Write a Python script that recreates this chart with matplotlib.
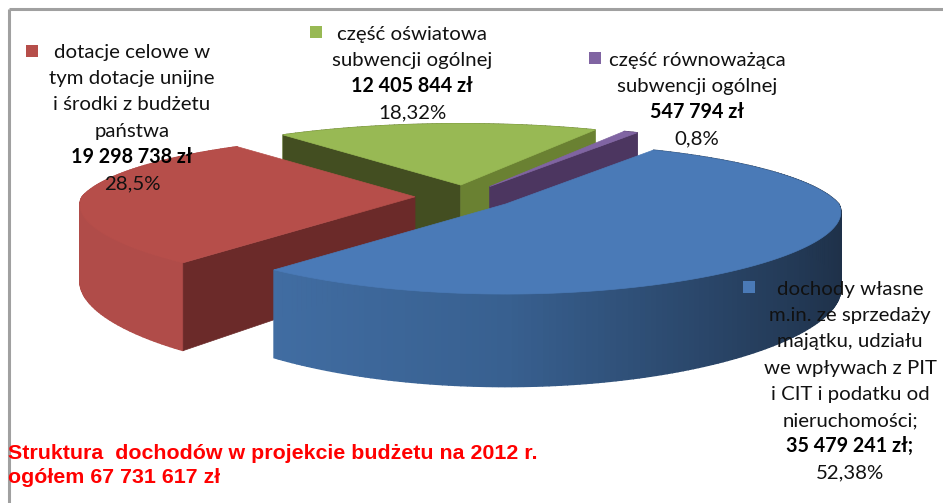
import numpy as np
import matplotlib
matplotlib.use("Agg")
import matplotlib.pyplot as plt
from matplotlib.patches import Polygon, Rectangle
from matplotlib.colors import to_rgb

# ---- data (clockwise, starting with the biggest slice)
slice_names = ["dochody własne", "dotacje celowe", "część oświatowa", "część równoważąca"]
slice_values = [35479241, 19298738, 12405844, 547794]
amount_labels = ["35 479 241 zł;", "19 298 738 zł", "12 405 844 zł", "547 794 zł"]
percent_labels = ["52,38%", "28,5%", "18,32%", "0,8%"]
name_lines = [
    ["dochody własne", "m.in. ze sprzedaży", "majątku, udziału", "we wpływach z PIT",
     "i CIT i podatku od", "nieruchomości;"],
    ["dotacje celowe w", "tym dotacje unijne", "i środki z budżetu", "państwa"],
    ["część oświatowa", "subwencji ogólnej"],
    ["część równoważąca", "subwencji ogólnej"],
]
title_lines = ["Struktura  dochodów w projekcie budżetu na 2012 r.", "ogółem 67 731 617 zł"]

# ---- styles
top_colors = ["#4A7AB7", "#B64E4A", "#98B954", "#8064A2"]
rim_colors = [None, "#B04C49", "#6A8132", "#4C3660"]
# wall colours: face at the start / face at the end of a slice, going clockwise
start_wall = ["#2F5078", "#6B2A29", "#434E21", "#4C3660"]
end_wall = ["#2F5078", "#6B2A29", "#6A8132", "#4C3660"]
key_colors = top_colors
blue_left, blue_mid, blue_right = to_rgb("#4674AC"), to_rgb("#386090"), to_rgb("#1E3048")

# label blocks: centre x, baseline of first line, key square position
label_cx = [850, 132, 412, 697]
label_y0 = [295, 58, 40, 66]
key_xy = [(743, 281), (26, 45), (310, 26), (589, 52)]
line_step = 26.2

# ---- 3D look of the pie, in pixels
start_angle = 59.0
cx, cy = 465, 197     # pie centre before exploding
ex, ey = 50, 12       # explosion
A, B = 333, 73        # radii
K = 0.19              # perspective
K_FRONT_X = 0.11      # front half spreads less in x than in y
D = 75                # thickness


def project(theta):
    u, v = np.cos(theta), np.sin(theta)
    s = 1 / (1 + K * v)
    sx = np.where(v > 0, s, 1 / (1 + K_FRONT_X * v))
    return u * A * sx, -v * B * s, D * s


def blue_rim(u):
    t = (u + 1) / 2
    if t < 0.5:
        a, b, f = blue_left, blue_mid, t * 2
    else:
        a, b, f = blue_mid, blue_right, (t - 0.5) * 2
    return tuple(a[i] + (b[i] - a[i]) * f for i in range(3))


fig = plt.figure(figsize=(9.43, 5.03), dpi=100)
ax = fig.add_axes([0, 0, 1, 1])
ax.set_xlim(0, 943)
ax.set_ylim(503, 0)
ax.axis("off")

# frame
ax.plot([8.5, 8.5], [503, 8.5], color="#A0A0A0", lw=2.2, solid_capstyle="butt")
ax.plot([8.5, 943], [8.5, 8.5], color="#A0A0A0", lw=2.2, solid_capstyle="butt")

# slice angles come straight from the values
fractions = np.array(slice_values) / sum(slice_values)
ends = start_angle - 360 * np.cumsum(fractions)
starts = np.concatenate([[start_angle], ends[:-1]])

# painter's order: green, purple, red, blue
i_order = {2: 1, 3: 2, 1: 3, 0: 4}


def draw_slice(i):
    a0, a1 = np.radians(starts[i]), np.radians(ends[i])
    mid = (a0 + a1) / 2
    ox = cx + ex * np.cos(mid)
    oy = cy - ey * np.sin(mid)
    thetas = np.linspace(a0, a1, max(int(abs(a1 - a0) * 60), 4))

    # outer rim, back to front
    order = np.argsort(-np.sin(thetas[:-1]))
    for j in order:
        x0, y0, d0 = project(thetas[j])
        x1, y1, d1 = project(thetas[j + 1])
        col = rim_colors[i] or blue_rim(np.cos((thetas[j] + thetas[j + 1]) / 2))
        ax.add_patch(Polygon([(ox + x0, oy + y0), (ox + x1, oy + y1),
                              (ox + x1, oy + y1 + d1), (ox + x0, oy + y0 + d0)],
                             closed=True, fc=col, ec=col, lw=1.0, zorder=i_order[i]))

    # radial faces, only those turned to the viewer
    for th, normal, col in ((a0, a0 + np.pi / 2, start_wall[i]), (a1, a1 - np.pi / 2, end_wall[i])):
        if np.sin(normal) >= 0:
            continue
        x, y, d = project(th)
        ax.add_patch(Polygon([(ox, oy), (ox + x, oy + y), (ox + x, oy + y + d), (ox, oy + D)],
                             closed=True, fc=col, ec=col, lw=0.5, zorder=i_order[i] + 0.2))

    # top surface
    xs, ys, _ = project(thetas)
    pts = [(ox, oy)] + list(zip(ox + xs, oy + ys))
    ax.add_patch(Polygon(pts, closed=True, fc=top_colors[i], ec=top_colors[i], lw=0.5,
                         zorder=i_order[i] + 0.5))


for i in [2, 3, 1, 0]:
    draw_slice(i)

# labels
FONT = "Lato"
for i in range(len(slice_values)):
    y = label_y0[i]
    for line in name_lines[i]:
        ax.text(label_cx[i], y, line, family=FONT, fontsize=14.7, color="#111111",
                ha="center", va="baseline", zorder=10)
        y += line_step
    ax.text(label_cx[i], y, amount_labels[i], family=FONT, fontsize=14.2, fontweight="bold",
            color="black", ha="center", va="baseline", zorder=10)
    y += line_step
    ax.text(label_cx[i], y, percent_labels[i], family=FONT, fontsize=14.7, color="#111111",
            ha="center", va="baseline", zorder=10)
    ax.add_patch(Rectangle(key_xy[i], 12, 12, fc=key_colors[i], ec="none", zorder=9))

# title
for line, y in zip(title_lines, [459, 483]):
    ax.text(8, y, line, family="Liberation Sans", fontsize=15.4, fontweight="bold", color="#FF0000",
            ha="left", va="baseline", zorder=10)

fig.savefig("out.png", dpi=100)
